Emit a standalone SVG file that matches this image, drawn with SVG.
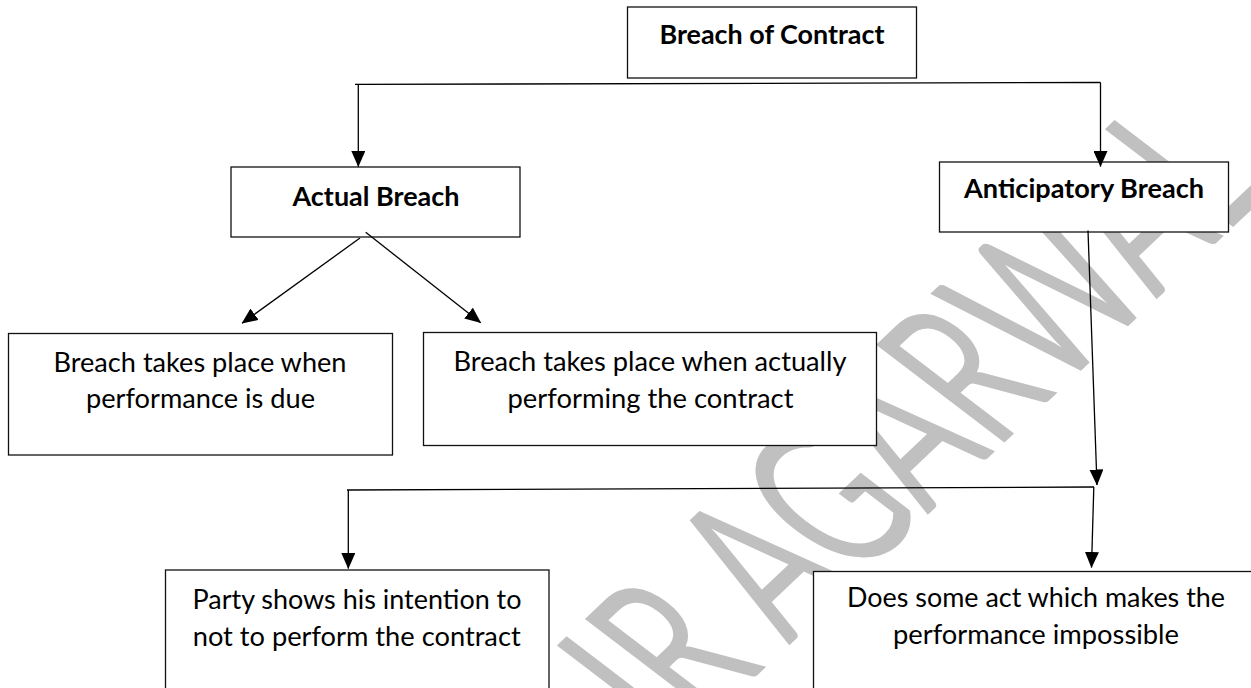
<svg xmlns="http://www.w3.org/2000/svg" width="1251" height="688" viewBox="0 0 1251 688">
  <defs>
    <marker id="arrow" viewBox="0 0 16 14" refX="15.5" refY="7" markerWidth="16" markerHeight="14" markerUnits="userSpaceOnUse" orient="auto">
      <path d="M0,0 L16,7 L0,14 Z" fill="#000"/>
    </marker>
    <style>
      .box { fill: #fff; stroke: #111; stroke-width: 1.3; }
      .wire { fill: none; stroke: #000; stroke-width: 1.3; }
      .head { font-family: Lato, "Liberation Sans", sans-serif; font-weight: 700; font-size: 27px; fill: #000; text-anchor: middle; }
      .body { font-family: Lato, "Liberation Sans", sans-serif; font-weight: 400; font-size: 27px; fill: #000; text-anchor: middle; }
      .mark { font-family: Lato, "Liberation Sans", sans-serif; font-weight: 400; font-size: 215px; fill: #c0c0c0; }
    </style>
  </defs>

  <rect width="1251" height="688" fill="#fff"/>

  <!-- diagonal watermark -->
  <g id="watermark">
    <text class="mark" transform="translate(676,752) scale(1.12,0.95) rotate(-48)" x="0" y="0" textLength="800" lengthAdjust="spacingAndGlyphs">IR AGARWAL</text>
  </g>

  <g id="node-breach">
    <rect class="box" x="627.5" y="7" width="289" height="71"/>
    <text class="head" x="772" y="44.3" textLength="225" lengthAdjust="spacingAndGlyphs">Breach of Contract</text>
  </g>

  <g id="node-actual">
    <rect class="box" x="231" y="167" width="289" height="70"/>
    <text class="head" x="376" y="206" textLength="167" lengthAdjust="spacingAndGlyphs">Actual Breach</text>
  </g>

  <g id="node-anticipatory">
    <rect class="box" x="939.5" y="162" width="289" height="70"/>
    <text class="head" x="1084" y="198.3" textLength="240" lengthAdjust="spacingAndGlyphs">Anticipatory Breach</text>
  </g>

  <g id="node-due">
    <rect class="box" x="8.5" y="333.5" width="384" height="121.5"/>
    <text class="body" x="200" y="371.7" textLength="293" lengthAdjust="spacingAndGlyphs">Breach takes place when</text>
    <text class="body" x="200.5" y="408.3" textLength="229" lengthAdjust="spacingAndGlyphs">performance is due</text>
  </g>

  <g id="node-performing">
    <rect class="box" x="423.5" y="332.5" width="453" height="113"/>
    <text class="body" x="650" y="370.7" textLength="393" lengthAdjust="spacingAndGlyphs">Breach takes place when actually</text>
    <text class="body" x="650.5" y="407.7" textLength="286" lengthAdjust="spacingAndGlyphs">performing the contract</text>
  </g>

  <g id="node-intention">
    <rect class="box" x="165.5" y="570" width="383.5" height="130"/>
    <text class="body" x="357" y="608.8" textLength="329" lengthAdjust="spacingAndGlyphs">Party shows his intention to</text>
    <text class="body" x="356.7" y="646.2" textLength="328" lengthAdjust="spacingAndGlyphs">not to perform the contract</text>
  </g>

  <g id="node-impossible">
    <rect class="box" x="813.5" y="571.5" width="450" height="130"/>
    <text class="body" x="1036" y="606.7" textLength="378" lengthAdjust="spacingAndGlyphs">Does some act which makes the</text>
    <text class="body" x="1036" y="643.5" textLength="286" lengthAdjust="spacingAndGlyphs">performance impossible</text>
  </g>

  <!-- connectors -->
  <g id="connectors">
    <path class="wire" d="M355,84.4 L1100.5,82.5"/>
    <path class="wire" d="M358.3,84.3 L358.3,166.5" marker-end="url(#arrow)"/>
    <path class="wire" d="M1100.5,82.5 L1100.5,166.5" marker-end="url(#arrow)"/>
    <path class="wire" d="M360,238 L242,323.3" marker-end="url(#arrow)"/>
    <path class="wire" d="M365.7,232.3 L480.7,322.7" marker-end="url(#arrow)"/>
    <path class="wire" d="M1088,230.5 L1097,485" marker-end="url(#arrow)"/>
    <path class="wire" d="M347,490 L1094,487"/>
    <path class="wire" d="M348.3,490 L348.3,568.5" marker-end="url(#arrow)"/>
    <path class="wire" d="M1093.8,487 L1091.5,567.5" marker-end="url(#arrow)"/>
  </g>
</svg>
